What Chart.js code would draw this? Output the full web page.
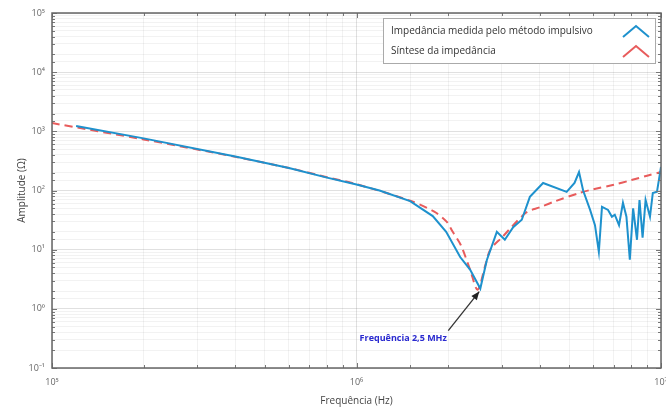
<!DOCTYPE html>
<html>
<head>
<meta charset="utf-8">
<script src="https://cdn.jsdelivr.net/npm/chart.js@4/dist/chart.umd.min.js"></script>
<style>
  body { margin: 0; background: #fff; }
  #wrap { width: 666px; height: 407px; }
</style>
</head>
<body>
<div id="wrap"><canvas id="myChart" width="666" height="407"></canvas></div>
<script>
// measured impedance (blue)
var measFreq = [1.2e5, 2e5, 4e5, 6e5, 8e5, 1e6, 1.19e6, 1.5e6, 1.78e6, 1.97e6, 2.19e6, 2.36e6, 2.55e6,
  2.68e6, 2.89e6, 3.07e6, 3.27e6, 3.49e6, 3.71e6, 4.1e6, 4.9e6, 5.2e6, 5.38e6, 5.55e6, 5.85e6,
  6.07e6, 6.25e6, 6.4e6, 6.7e6, 6.9e6, 7.05e6, 7.28e6, 7.5e6, 7.7e6, 7.9e6, 8.1e6, 8.34e6,
  8.5e6, 8.7e6, 8.9e6, 9.2e6, 9.4e6, 9.7e6, 1e7];
var measAmp = [1230, 760, 375, 240, 165, 126, 100, 66, 37, 20, 7.5, 4.6, 2.2,
  6.7, 20, 14.7, 24, 32, 78, 134, 95, 134, 205, 100, 47,
  26, 9.2, 53, 47, 36, 39, 26, 62, 36, 6.8, 50, 14.7,
  69, 16, 69, 36, 91, 95, 250];

// synthesis (red dashed)
var synFreq = [1e5, 2e5, 4e5, 6e5, 8e5, 1e6, 1.5e6, 1.8e6, 1.98e6, 2.07e6, 2.2e6, 2.36e6, 2.5e6,
  2.65e6, 2.75e6, 3e6, 3.6e6, 4e6, 4.5e6, 5.4e6, 6e6, 7e6, 8e6, 9e6, 1e7];
var synAmp = [1380, 730, 370, 240, 168, 128, 67, 44, 29.5, 20, 12, 4.6, 2.1,
  5.5, 10, 16, 42, 52, 66, 91, 105, 125, 150, 178, 205];

var xTicks = [1e5, 1e6, 1e7];
var yTicks = [1e-1, 1e0, 1e1, 1e2, 1e3, 1e4, 1e5];
var seriesNames = ['Impedância medida pelo método impulsivo', 'Síntese da impedância'];
var noteText = 'Frequência 2,5 MHz';

function pts(xs, ys) {
  return xs.map(function (x, i) { return { x: x, y: ys[i] }; });
}
function isMajor(v) {
  var l = Math.log10(v);
  return Math.abs(l - Math.round(l)) < 1e-6;
}
var supMap = { '0': '⁰', '1': '¹', '2': '²', '3': '³', '4': '⁴', '5': '⁵', '6': '⁶', '7': '⁷', '8': '⁸', '9': '⁹', '-': '⁻' };
function powLabel(v) {
  var e = String(Math.round(Math.log10(v)));
  return '10' + e.split('').map(function (c) { return supMap[c]; }).join('');
}

var blue = 'rgb(30,145,205)';
var red = 'rgb(232,92,92)';

// frame, inner tick marks, legend box and the arrow note
var extras = {
  id: 'extras',
  afterDraw: function (chart) {
    var c = chart.ctx, a = chart.chartArea;
    var xs = chart.scales.x, ys = chart.scales.y;
    c.save();
    // inner ticks
    c.strokeStyle = '#777';
    c.lineWidth = 1;
    xs.ticks.forEach(function (t) {
      var px = Math.round(xs.getPixelForValue(t.value)) + 0.5;
      var len = isMajor(t.value) ? 5 : 3;
      c.beginPath();
      c.moveTo(px, a.bottom); c.lineTo(px, a.bottom - len);
      c.moveTo(px, a.top); c.lineTo(px, a.top + len);
      c.stroke();
    });
    ys.ticks.forEach(function (t) {
      var py = Math.round(ys.getPixelForValue(t.value)) + 0.5;
      var len = isMajor(t.value) ? 5 : 3;
      c.beginPath();
      c.moveTo(a.left, py); c.lineTo(a.left + len, py);
      c.moveTo(a.right, py); c.lineTo(a.right - len, py);
      c.stroke();
    });
    // frame
    c.strokeStyle = '#666';
    c.lineWidth = 1.5;
    c.strokeRect(a.left, a.top, a.right - a.left, a.bottom - a.top);

    // legend
    var lx = 383, ly = 18, lw = 272, lh = 45;
    c.fillStyle = '#fff';
    c.fillRect(lx, ly, lw, lh);
    c.strokeStyle = '#aaa';
    c.lineWidth = 1;
    c.strokeRect(lx + 0.5, ly + 0.5, lw, lh);
    c.font = '10px "Open Sans", sans-serif';
    c.fillStyle = '#333';
    c.textBaseline = 'middle';
    c.textAlign = 'left';
    var cols = [blue, red];
    seriesNames.forEach(function (n, i) {
      var ry = ly + 13 + i * 20;
      c.fillText(n, lx + 8, ry);
      c.strokeStyle = cols[i];
      c.lineWidth = 2;
      c.beginPath();
      c.moveTo(lx + lw - 32, ry + 6);
      c.lineTo(lx + lw - 19, ry - 5);
      c.lineTo(lx + lw - 6, ry + 6);
      c.stroke();
    });

    // arrow note
    var tipX = xs.getPixelForValue(2.53e6), tipY = ys.getPixelForValue(2.2) + 3;
    var tailX = tipX - 31, tailY = tipY + 39;
    var ang = Math.atan2(tipY - tailY, tipX - tailX);
    c.strokeStyle = '#333';
    c.fillStyle = '#222';
    c.lineWidth = 1.3;
    c.beginPath();
    c.moveTo(tailX, tailY); c.lineTo(tipX, tipY);
    c.stroke();
    c.beginPath();
    c.moveTo(tipX, tipY);
    c.lineTo(tipX - 9 * Math.cos(ang - 0.4), tipY - 9 * Math.sin(ang - 0.4));
    c.lineTo(tipX - 9 * Math.cos(ang + 0.4), tipY - 9 * Math.sin(ang + 0.4));
    c.closePath();
    c.fill();
    c.font = 'bold 9px "Open Sans", sans-serif';
    c.fillStyle = '#2a2ad0';
    c.textAlign = 'center';
    c.fillText(noteText, tailX - 45, tailY + 8);
    c.restore();
  }
};

var ctx = document.getElementById('myChart').getContext('2d');
var chart = new Chart(ctx, {
  type: 'line',
  data: {
    datasets: [{
      label: seriesNames[0],
      data: pts(measFreq, measAmp),
      borderColor: blue,
      borderWidth: 2,
      pointRadius: 0,
      tension: 0,
      fill: false
    }, {
      label: seriesNames[1],
      data: pts(synFreq, synAmp),
      borderColor: red,
      borderWidth: 2,
      borderDash: [8, 5],
      pointRadius: 0,
      tension: 0.3,
      fill: false
    }]
  },
  options: {
    responsive: false,
    animation: false,
    devicePixelRatio: 1,
    layout: { padding: { top: 13, right: 5, left: 0, bottom: 0 } },
    plugins: { legend: { display: false }, tooltip: { enabled: false } },
    scales: {
      x: {
        type: 'logarithmic',
        min: 1e5, max: 1e7,
        afterFit: function (s) { s.height = 39; s.paddingRight = 0; s.paddingLeft = 0; },
        border: { display: false },
        grid: {
          drawTicks: false,
          color: function (c) { return isMajor(c.tick.value) ? 'rgba(0,0,0,0.12)' : 'rgba(0,0,0,0.05)'; }
        },
        ticks: {
          autoSkip: false, maxRotation: 0, padding: 9,
          color: '#666',
          font: { family: 'Open Sans', size: 9 },
          callback: function (v) { return xTicks.indexOf(v) >= 0 || isMajor(v) ? powLabel(v) : ''; }
        },
        title: {
          display: true, text: 'Frequência (Hz)', color: '#444',
          font: { family: 'Open Sans', size: 10 }, padding: { top: 6, bottom: 0 }
        }
      },
      y: {
        type: 'logarithmic',
        min: 1e-1, max: 1e5,
        afterFit: function (s) { s.width = 52; s.paddingTop = 0; s.paddingBottom = 0; },
        border: { display: false },
        grid: {
          drawTicks: false,
          color: function (c) { return isMajor(c.tick.value) ? 'rgba(0,0,0,0.12)' : 'rgba(0,0,0,0.05)'; }
        },
        ticks: {
          autoSkip: false, padding: 7,
          color: '#666',
          font: { family: 'Open Sans', size: 9 },
          callback: function (v) { return yTicks.indexOf(v) >= 0 || isMajor(v) ? powLabel(v) : ''; }
        },
        title: {
          display: true, text: 'Amplitude (Ω)', color: '#444',
          font: { family: 'Open Sans', size: 10 }, padding: { top: 16, bottom: 0 }
        }
      }
    }
  },
  plugins: [extras]
});
</script>
</body>
</html>
